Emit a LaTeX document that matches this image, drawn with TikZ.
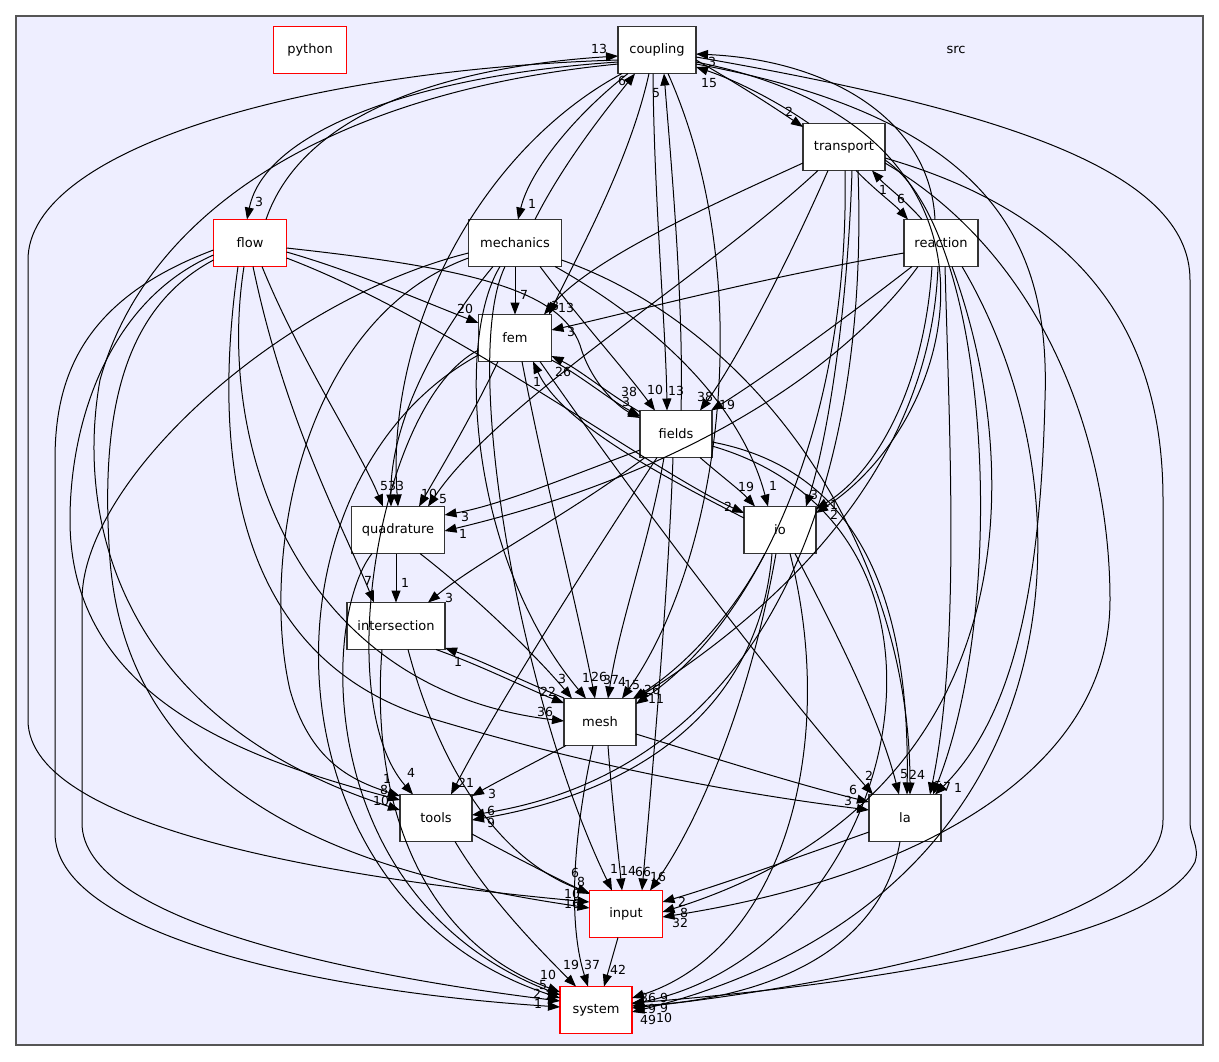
\documentclass[tikz,border=0pt]{standalone}
\usepackage{fontspec}
\setmainfont{DejaVu Sans}
\usetikzlibrary{arrows.meta,calc}
\definecolor{clfill}{HTML}{EEEEFF}
\definecolor{clborder}{HTML}{555555}
\definecolor{boxred}{HTML}{FF0000}
\begin{document}
\begin{tikzpicture}[x=1pt,y=-1pt,
  box/.style={draw=black!80, fill=white, line width=1.1pt, minimum height=47pt, inner sep=0pt, font=\fontsize{13}{15}\selectfont},
  redbox/.style={box, draw=boxred},
  dep/.style={-{Triangle[length=12pt,width=9pt]}, line width=1pt, black},
  lbl/.style={font=\fontsize{12.5}{14}\selectfont, inner sep=0pt}
]
\useasboundingbox (0,0) rectangle (1219,1061);
\fill[white] (0,0) rectangle (1219,1061);
\draw[fill=clfill, draw=clborder, line width=1.2pt] (16,16) rectangle (1203,1045);
\node[font=\fontsize{13}{15}\selectfont] (src) at (956,50) {src};

\node[redbox, minimum width=73pt] (python) at (310,50) {python};
\node[box, minimum width=78pt] (coupling) at (657,50) {coupling};
\node[box, minimum width=82pt] (transport) at (844,147) {transport};
\node[box, minimum width=74pt] (reaction) at (941,243) {reaction};
\node[redbox, minimum width=73pt] (flow) at (250,243) {flow};
\node[box, minimum width=93pt] (mechanics) at (515,243) {mechanics};
\node[box, minimum width=73pt] (fem) at (515,338) {fem};
\node[box, minimum width=72pt] (fields) at (676,434) {fields};
\node[box, minimum width=93pt] (quadrature) at (398,530) {quadrature};
\node[box, minimum width=72pt] (io) at (780,530) {io};
\node[box, minimum width=98pt] (intersection) at (396,626) {intersection};
\node[box, minimum width=72pt] (mesh) at (600,722) {mesh};
\node[box, minimum width=72pt] (tools) at (436,818) {tools};
\node[box, minimum width=72pt] (la) at (905,818) {la};
\node[redbox, minimum width=73pt] (input) at (626,914) {input};
\node[redbox, minimum width=72pt] (system) at (596,1010) {system};

% coupling
\draw[dep] ($(coupling.center)+(-39,12)$) .. controls (420,75) and (265,130) .. ($(flow.center)+(-3,-23.5)$) node[lbl] at (259,202) {3};
\draw[dep] ($(flow.center)+(16,-23.5)$) .. controls (300,120) and (430,68) .. ($(coupling.center)+(-39,6)$) node[lbl] at (599,49) {13};
\draw[dep] ($(coupling.center)+(-29,23.5)$) .. controls (575,115) and (530,170) .. ($(mechanics.center)+(3,-23.5)$) node[lbl] at (532,204) {1};
\draw[dep] ($(mechanics.center)+(20,-23.5)$) .. controls (565,160) and (610,105) .. ($(coupling.center)+(-22,23.5)$) node[lbl] at (622,81) {6};
\draw[dep] ($(coupling.center)+(39,10)$) .. controls (740,85) and (775,108) .. ($(transport.center)+(-41,-20)$) node[lbl] at (789,112) {2};
\draw[dep] ($(transport.center)+(-35,-23.5)$) .. controls (775,100) and (735,80) .. ($(coupling.center)+(39,17)$) node[lbl] at (709,83) {15};
\draw[dep] ($(reaction.center)+(-6,-23.5)$) .. controls (930,120) and (830,60) .. ($(coupling.center)+(39,4)$) node[lbl] at (712,62) {3};
\draw[dep] ($(fields.center)+(5,-23.5)$) .. controls (684,300) and (670,150) .. ($(coupling.center)+(7,23.5)$) node[lbl] at (656,93) {5};
\draw[dep] ($(coupling.center)+(-4,23.5)$) .. controls (654,200) and (666,330) .. ($(fields.center)+(-9,-23.5)$) node[lbl] at (676,391) {13};
\draw[dep] ($(coupling.center)+(-8,23.5)$) .. controls (630,160) and (580,250) .. ($(fem.center)+(34,-23.5)$) node[lbl] at (566,308) {13};
\draw[dep] ($(coupling.center)+(-35,23.5)$) .. controls (480,150) and (385,330) .. ($(quadrature.center)+(0,-23.5)$) node[lbl] at (400,486) {3};
\draw[dep] ($(coupling.center)+(11,23.5)$) .. controls (760,280) and (720,560) .. ($(mesh.center)+(22,-23.5)$) node[lbl] at (622,682) {4};
\draw[dep] ($(coupling.center)+(39,12)$) .. controls (1040,130) and (960,420) .. ($(io.center)+(36,-17)$) node[lbl] at (834,515) {2};
\draw[dep] ($(coupling.center)+(39,14)$) .. controls (1000,120) and (1050,250) .. (1045,400) .. controls (1040,600) and (1010,720) .. ($(la.center)+(30,-23.5)$) node[lbl] at (958,788) {1};
\draw[dep] ($(coupling.center)+(-39,10)$) .. controls (300,70) and (28,150) .. (28,260) -- (28,720) .. controls (28,830) and (350,880) .. ($(input.center)+(-36.5,-12)$) node[lbl] at (572,904) {16};
\draw[dep] ($(coupling.center)+(-39,14)$) .. controls (350,90) and (150,200) .. (100,380) .. controls (75,520) and (120,720) .. ($(tools.center)+(-36,-8)$) node[lbl] at (381,801) {10};
\draw[dep] ($(coupling.center)+(39,7)$) .. controls (1000,110) and (1190,170) .. (1190,280) -- (1190,823) .. controls (1190,835) and (1200,848) .. (1195,862) .. controls (1150,950) and (800,990) .. ($(system.center)+(36,-7)$) node[lbl] at (664,998) {9};

% flow
\draw[dep] ($(flow.center)+(36.5,9)$) .. controls (350,270) and (420,300) .. ($(fem.center)+(-36.5,-15)$) node[lbl] at (465,309) {20};
\draw[dep] ($(flow.center)+(36.5,5)$) .. controls (470,268) and (560,290) .. (580,345) .. controls (590,380) and (615,405) .. ($(fields.center)+(-36,-16)$) node[lbl] at (626,402) {3};
\draw[dep] ($(flow.center)+(36.5,15)$) .. controls (450,320) and (650,470) .. ($(io.center)+(-36,-17)$) node[lbl] at (728,507) {2};
\draw[dep] ($(flow.center)+(12,23.5)$) .. controls (300,360) and (360,450) .. ($(quadrature.center)+(-15,-23.5)$) node[lbl] at (384,486) {5};
\draw[dep] ($(flow.center)+(3,23.5)$) .. controls (285,420) and (340,520) .. ($(intersection.center)+(-22,-23.5)$) node[lbl] at (368,581) {7};
\draw[dep] ($(flow.center)+(-6,23.5)$) .. controls (215,450) and (300,690) .. ($(mesh.center)+(-36,-1)$) node[lbl] at (545,712) {36};
\draw[dep] ($(flow.center)+(-12,23.5)$) .. controls (205,500) and (260,660) .. (420,715) .. controls (600,770) and (750,795) .. ($(la.center)+(-36,-8)$) node[lbl] at (848,801) {3};
\draw[dep] ($(flow.center)+(-36.5,12)$) .. controls (110,300) and (70,420) .. (70,520) .. controls (70,700) and (250,760) .. ($(tools.center)+(-36,-18)$) node[lbl] at (384,790) {8};
\draw[dep] ($(flow.center)+(-36.5,17)$) .. controls (120,310) and (100,420) .. (110,560) .. controls (130,820) and (400,880) .. ($(input.center)+(-36.5,-6)$) node[lbl] at (572,894) {10};
\draw[dep] ($(flow.center)+(-36.5,7)$) .. controls (80,300) and (55,380) .. (55,460) -- (55,833) .. controls (55,930) and (300,990) .. ($(system.center)+(-36,-3)$) node[lbl] at (538,1004) {1};

% mechanics
\draw[dep] ($(mechanics.center)+(0,23.5)$) -- ($(fem.center)+(0,-23.5)$) node[lbl] at (524,295) {7};
\draw[dep] ($(mechanics.center)+(-22,23.5)$) .. controls (440,330) and (390,420) .. ($(quadrature.center)+(-7,-23.5)$) node[lbl] at (392,486) {3};
\draw[dep] ($(mechanics.center)+(-15,23.5)$) .. controls (455,340) and (470,560) .. ($(mesh.center)+(-14,-23.5)$) node[lbl] at (586,678) {1};
\draw[dep] ($(mechanics.center)+(-10,23.5)$) .. controls (460,360) and (520,700) .. ($(input.center)+(-14,-23.5)$) node[lbl] at (614,869) {1};
\draw[dep] ($(mechanics.center)+(-46.5,15)$) .. controls (300,320) and (260,560) .. (290,690) .. controls (310,760) and (350,780) .. ($(tools.center)+(-36,-22)$) node[lbl] at (387,779) {1};
\draw[dep] ($(mechanics.center)+(-46.5,10)$) .. controls (280,300) and (82,480) .. (82,600) -- (82,823) .. controls (82,920) and (350,975) .. ($(system.center)+(-36,-9)$) node[lbl] at (549,995) {1};
\draw[dep] ($(mechanics.center)+(25,23.5)$) .. controls (580,320) and (625,370) .. ($(fields.center)+(-21,-23.5)$) node[lbl] at (655,390) {10};
\draw[dep] ($(mechanics.center)+(40,23.5)$) .. controls (650,320) and (740,400) .. ($(io.center)+(-12,-23.5)$) node[lbl] at (773,486) {1};
\draw[dep] ($(mechanics.center)+(46.5,17)$) .. controls (760,330) and (910,550) .. ($(la.center)+(5,-23.5)$) node[lbl] at (921,775) {4};

% transport
\draw[dep] ($(transport.center)+(12,23.5)$) .. controls (875,190) and (895,205) .. ($(reaction.center)+(-33,-23.5)$) node[lbl] at (901,199) {6};
\draw[dep] ($(reaction.center)+(-19,-23.5)$) .. controls (905,200) and (885,185) .. ($(transport.center)+(28,23.5)$) node[lbl] at (883,190) {1};
\draw[dep] ($(transport.center)+(-41,16)$) .. controls (700,210) and (590,260) .. ($(fem.center)+(29,-23.5)$) node[lbl] at (555,306) {3};
\draw[dep] ($(transport.center)+(-26,23.5)$) .. controls (700,280) and (500,400) .. ($(quadrature.center)+(30,-23.5)$) node[lbl] at (443,499) {5};
\draw[dep] ($(transport.center)+(-16,23.5)$) .. controls (780,280) and (730,370) .. ($(fields.center)+(24,-23.5)$) node[lbl] at (705,397) {38};
\draw[dep] ($(transport.center)+(8,23.5)$) .. controls (848,300) and (830,430) .. ($(io.center)+(26,-23.5)$) node[lbl] at (814,495) {3};
\draw[dep] ($(transport.center)+(1,23.5)$) .. controls (850,420) and (760,620) .. ($(mesh.center)+(36,-18)$) node[lbl] at (656,699) {11};
\draw[dep] ($(transport.center)+(14,23.5)$) .. controls (870,500) and (760,770) .. ($(tools.center)+(36,-3)$) node[lbl] at (491,811) {6};
\draw[dep] ($(transport.center)+(41,13)$) .. controls (990,230) and (1010,600) .. ($(la.center)+(28,-23.5)$) node[lbl] at (947,787) {7};
\draw[dep] ($(transport.center)+(41,16)$) .. controls (1050,260) and (1110,450) .. (1110,600) .. controls (1110,780) and (900,880) .. ($(input.center)+(36.5,3)$) node[lbl] at (680,923) {32};
\draw[dep] ($(transport.center)+(41,11)$) .. controls (1100,220) and (1163,350) .. (1163,500) -- (1163,820) .. controls (1163,930) and (800,990) .. ($(system.center)+(36,-2)$) node[lbl] at (664,1018) {10};

% reaction
\draw[dep] ($(reaction.center)+(-37,10)$) .. controls (750,280) and (620,315) .. ($(fem.center)+(36.5,-8)$) node[lbl] at (571,332) {3};
\draw[dep] ($(reaction.center)+(-29,23.5)$) .. controls (830,330) and (760,380) .. ($(fields.center)+(35,-23.5)$) node[lbl] at (727,405) {19};
\draw[dep] ($(reaction.center)+(-23,23.5)$) .. controls (850,360) and (700,470) .. ($(quadrature.center)+(46.5,1)$) node[lbl] at (463,534) {1};
\draw[dep] ($(reaction.center)+(-9,23.5)$) .. controls (925,380) and (880,470) .. ($(io.center)+(36,-21)$) node[lbl] at (834,505) {1};
\draw[dep] ($(reaction.center)+(-3,23.5)$) .. controls (930,480) and (760,620) .. ($(mesh.center)+(36,-23)$) node[lbl] at (652,690) {26};
\draw[dep] ($(reaction.center)+(4,23.5)$) .. controls (950,450) and (960,650) .. ($(la.center)+(25,-23.5)$) node[lbl] at (938,786) {5};
\draw[dep] ($(reaction.center)+(11,23.5)$) .. controls (1030,480) and (1020,800) .. ($(input.center)+(36.5,-2)$) node[lbl] at (684,913) {8};
\draw[dep] ($(reaction.center)+(21,23.5)$) .. controls (1100,500) and (1080,900) .. ($(system.center)+(36,2)$) node[lbl] at (648,1020) {49};

% fem
\draw[dep] ($(fem.center)+(36.5,22)$) .. controls (580,375) and (610,400) .. ($(fields.center)+(-36,-18)$) node[lbl] at (629,392) {38};
\draw[dep] ($(fields.center)+(-36,-22)$) .. controls (610,395) and (580,370) .. ($(fem.center)+(36.5,18)$) node[lbl] at (563,372) {26};
\draw[dep] ($(fem.center)+(-17,23.5)$) .. controls (470,420) and (440,470) .. ($(quadrature.center)+(21,-23.5)$) node[lbl] at (429,494) {10};
\draw[dep] ($(fem.center)+(7,23.5)$) .. controls (545,480) and (580,620) .. ($(mesh.center)+(-5,-23.5)$) node[lbl] at (599,677) {26};
\draw[dep] ($(fem.center)+(-36.5,12)$) .. controls (380,400) and (330,700) .. ($(tools.center)+(-23,-23.5)$) node[lbl] at (411,773) {4};
\draw[dep] ($(fem.center)+(25,23.5)$) .. controls (650,520) and (790,700) .. ($(la.center)+(-32,-23.5)$) node[lbl] at (869,776) {2};
\draw[dep] ($(fem.center)+(-36.5,17)$) .. controls (250,480) and (260,900) .. ($(system.center)+(-36,-12)$) node[lbl] at (537,994) {2};
\draw[dep] ($(io.center)+(-36,-12)$) .. controls (650,470) and (560,420) .. ($(fem.center)+(18,23.5)$) node[lbl] at (537,382) {1};

% fields
\draw[dep] ($(fields.center)+(-36,16)$) .. controls (560,480) and (500,505) .. ($(quadrature.center)+(46.5,-15)$) node[lbl] at (465,517) {3};
\draw[dep] ($(fields.center)+(-31,23.5)$) .. controls (560,520) and (480,560) .. ($(intersection.center)+(32,-23.5)$) node[lbl] at (449,598) {3};
\draw[dep] ($(fields.center)+(-19,23.5)$) .. controls (590,560) and (500,700) .. ($(tools.center)+(15,-23.5)$) node[lbl] at (466,783) {21};
\draw[dep] ($(fields.center)+(-12,23.5)$) .. controls (650,540) and (620,620) .. ($(mesh.center)+(8,-23.5)$) node[lbl] at (611,680) {37};
\draw[dep] ($(fields.center)+(-3,23.5)$) .. controls (668,600) and (650,800) .. ($(input.center)+(16,-23.5)$) node[lbl] at (643,872) {66};
\draw[dep] ($(fields.center)+(24,23.5)$) .. controls (720,475) and (740,490) .. ($(io.center)+(-25,-23.5)$) node[lbl] at (746,487) {19};
\draw[dep] ($(fields.center)+(36,8)$) .. controls (860,470) and (910,600) .. ($(la.center)+(2,-23.5)$) node[lbl] at (913,775) {2};
\draw[dep] ($(fields.center)+(36,12)$) .. controls (1000,530) and (900,950) .. ($(system.center)+(36,-6)$) node[lbl] at (648,998) {36};

% quadrature
\draw[dep] ($(quadrature.center)+(-2,23.5)$) -- ($(intersection.center)+(0,-23.5)$) node[lbl] at (405,583) {1};
\draw[dep] ($(quadrature.center)+(22,23.5)$) .. controls (480,600) and (540,660) .. ($(mesh.center)+(-28,-23.5)$) node[lbl] at (562,679) {3};
\draw[dep] ($(quadrature.center)+(-26,23.5)$) .. controls (320,620) and (315,900) .. ($(system.center)+(-36,-15)$) node[lbl] at (543,985) {5};

% intersection
\draw[dep] ($(intersection.center)+(40,23.5)$) .. controls (480,665) and (530,690) .. ($(mesh.center)+(-36,-19)$) node[lbl] at (548,692) {22};
\draw[dep] ($(mesh.center)+(-36,-24)$) .. controls (520,680) and (480,660) .. ($(intersection.center)+(49,22)$) node[lbl] at (458,662) {1};
\draw[dep] ($(intersection.center)+(12,23.5)$) .. controls (440,770) and (500,860) .. ($(input.center)+(-36.5,-21)$) node[lbl] at (581,882) {8};
\draw[dep] ($(intersection.center)+(-14,23.5)$) .. controls (370,800) and (420,940) .. ($(system.center)+(-36,-18)$) node[lbl] at (548,975) {10};

% io
\draw[dep] ($(io.center)+(-15,23.5)$) .. controls (730,620) and (680,670) .. ($(mesh.center)+(33,-23.5)$) node[lbl] at (632,685) {15};
\draw[dep] ($(io.center)+(-8,23.5)$) .. controls (760,700) and (650,790) .. ($(tools.center)+(36,2)$) node[lbl] at (491,823) {9};
\draw[dep] ($(io.center)+(15,23.5)$) .. controls (840,640) and (880,720) .. ($(la.center)+(-6,-23.5)$) node[lbl] at (904,774) {5};
\draw[dep] ($(io.center)+(-4,23.5)$) .. controls (750,700) and (700,820) .. ($(input.center)+(24,-23.5)$) node[lbl] at (658,877) {16};
\draw[dep] ($(io.center)+(10,23.5)$) .. controls (840,750) and (780,950) .. ($(system.center)+(36,-12)$) node[lbl] at (648,1009) {19};

% mesh
\draw[dep] ($(mesh.center)+(-34,23.5)$) .. controls (530,765) and (500,780) .. ($(tools.center)+(36,-22)$) node[lbl] at (492,794) {3};
\draw[dep] ($(mesh.center)+(36,12)$) .. controls (720,760) and (800,785) .. ($(la.center)+(-36,-16)$) node[lbl] at (853,790) {6};
\draw[dep] ($(mesh.center)+(8,23.5)$) .. controls (612,800) and (618,850) .. ($(input.center)+(-4,-23.5)$) node[lbl] at (628,871) {14};
\draw[dep] ($(mesh.center)+(-7,23.5)$) .. controls (570,850) and (570,930) .. ($(system.center)+(-8,-23.5)$) node[lbl] at (592,965) {37};

% tools, la, input
\draw[dep] ($(tools.center)+(36,16)$) .. controls (520,860) and (560,880) .. ($(input.center)+(-36.5,-20)$) node[lbl] at (575,873) {6};
\draw[dep] ($(tools.center)+(19,23.5)$) .. controls (490,900) and (540,950) .. ($(system.center)+(-20,-23.5)$) node[lbl] at (571,965) {19};
\draw[dep] ($(la.center)+(-36,14)$) .. controls (790,860) and (720,885) .. ($(input.center)+(36.5,-12)$) node[lbl] at (682,902) {2};
\draw[dep] ($(la.center)+(-5,23.5)$) .. controls (880,960) and (750,1000) .. ($(system.center)+(36,-4)$) node[lbl] at (664,1008) {9};
\draw[dep] ($(input.center)+(-8,23.5)$) -- ($(system.center)+(8,-23.5)$) node[lbl] at (618,970) {42};
\end{tikzpicture}
\end{document}
